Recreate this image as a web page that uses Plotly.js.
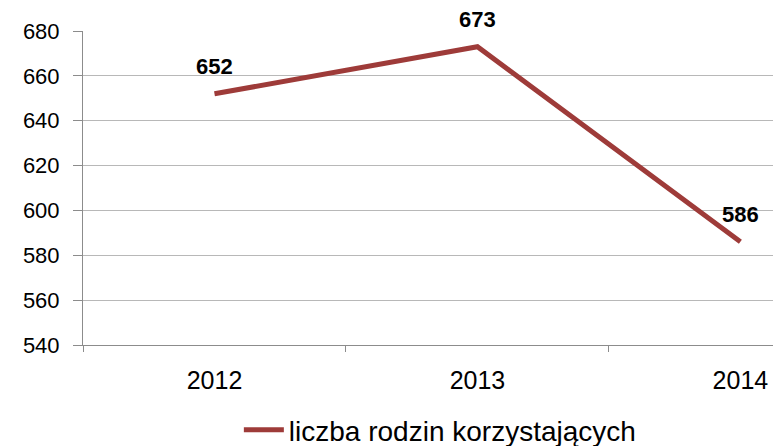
<!DOCTYPE html>
<html>
<head>
<meta charset="utf-8">
<script src="https://cdn.plot.ly/plotly-3.0.1.min.js"></script>
<style>html,body{margin:0;padding:0;background:#fff;overflow:hidden}</style>
</head>
<body>
<div id="chart" style="width:773px;height:446px"></div>
<script>
var years = ['2012', '2013', '2014'];
var families = [652, 673, 586];
var labels = ['652', '673', '586'];
var seriesName = 'liczba rodzin korzystających';
var yTicks = [540, 560, 580, 600, 620, 640, 660, 680];

var lineTrace = {
  x: years,
  y: families,
  type: 'scatter',
  mode: 'lines',
  name: seriesName,
  line: {color: '#9E3B39', width: 5},
  showlegend: true,
  cliponaxis: false
};

var labelTrace = {
  x: years,
  y: families,
  type: 'scatter',
  mode: 'markers+text',
  text: labels,
  textposition: 'top center',
  texttemplate: '<b>%{text}</b>',
  textfont: {family: 'Liberation Sans, Arial, sans-serif', size: 22, color: '#000'},
  marker: {size: 21, color: 'rgba(0,0,0,0)'},
  showlegend: false,
  cliponaxis: false
};

var layout = {
  width: 773, height: 446,
  margin: {l: 83, r: 0, t: 31, b: 101},
  paper_bgcolor: '#fff', plot_bgcolor: '#fff',
  font: {family: 'Liberation Sans, Arial, sans-serif', color: '#000'},
  xaxis: {
    type: 'category',
    range: [-0.5, 2.124],
    tickson: 'boundaries',
    ticks: 'outside', ticklen: 6, tickcolor: '#8c8c8c', tickwidth: 1,
    showline: true, linecolor: '#8c8c8c', linewidth: 1,
    showgrid: false, zeroline: false,
    tickfont: {size: 25, color: '#000'},
    ticklabelstandoff: 13
  },
  yaxis: {
    range: [540, 680],
    tickvals: yTicks,
    ticks: 'outside', ticklen: 9, tickcolor: '#8c8c8c', tickwidth: 1,
    showline: true, linecolor: '#8c8c8c', linewidth: 1,
    showgrid: true, gridcolor: '#b8b8b8', gridwidth: 1,
    zeroline: false,
    tickfont: {size: 22, color: '#000'},
    ticklabelstandoff: 9
  },
  legend: {
    orientation: 'h', xref: 'container', yref: 'container',
    x: 0.309, xanchor: 'left', y: 0.036, yanchor: 'middle',
    font: {size: 28, color: '#000'}, itemwidth: 40, bgcolor: 'rgba(0,0,0,0)'
  },
  showlegend: true
};

Plotly.newPlot('chart', [lineTrace, labelTrace], layout, {displayModeBar: false, staticPlot: true});
</script>
</body>
</html>
